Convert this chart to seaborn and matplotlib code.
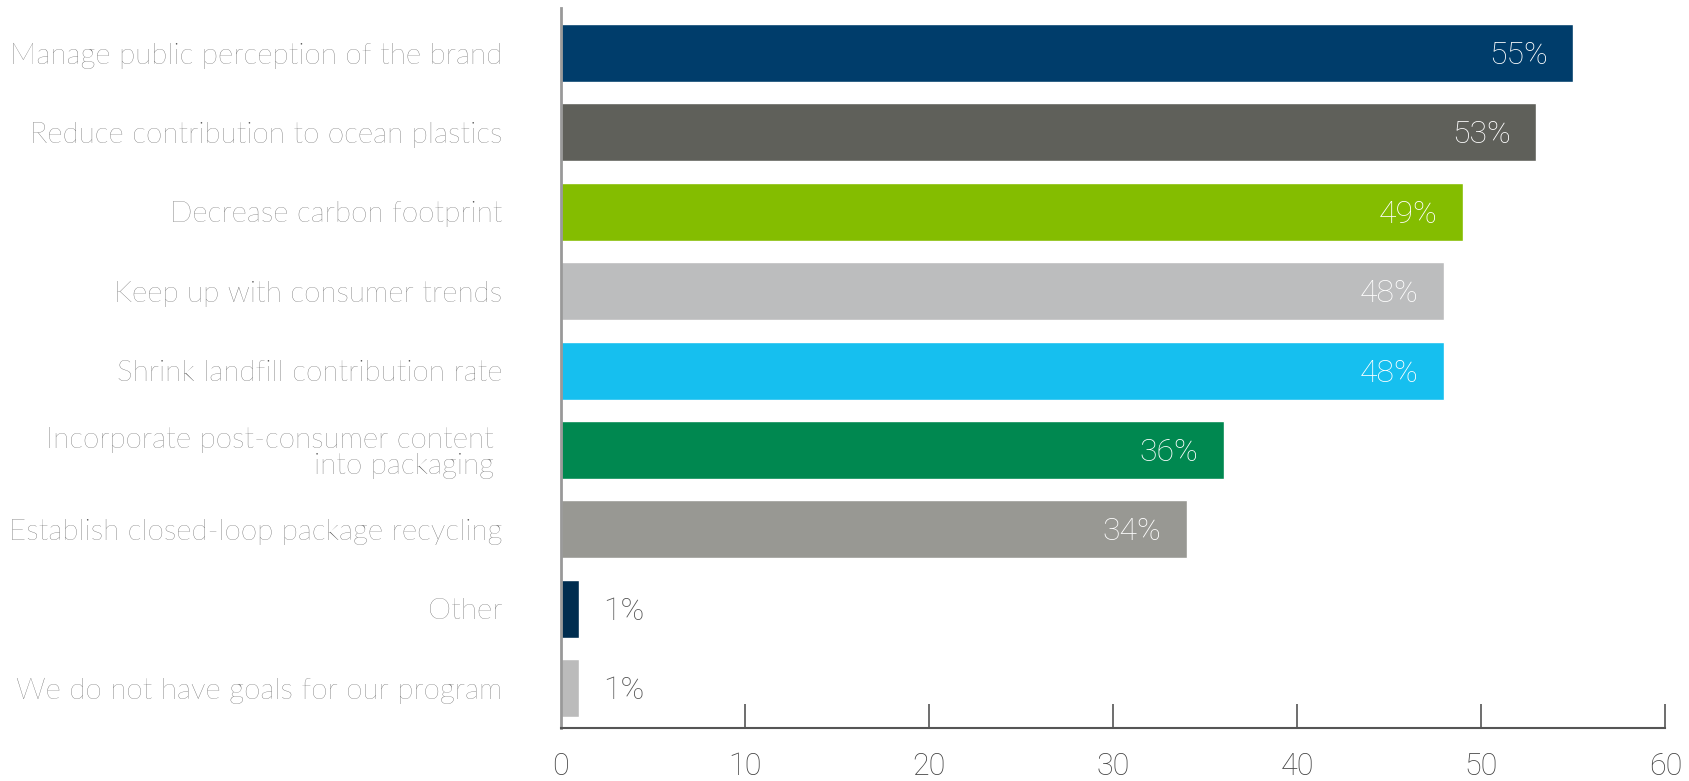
import matplotlib
matplotlib.use("Agg")
import matplotlib.pyplot as plt
import seaborn as sns

# %% Datos
goals = [
    "Manage public perception of the brand",
    "Reduce contribution to ocean plastics",
    "Decrease carbon footprint",
    "Keep up with consumer trends",
    "Shrink landfill contribution rate",
    "Incorporate post-consumer content \ninto packaging ",
    "Establish closed-loop package recycling",
    "Other",
    "We do not have goals for our program",
]
pct = [55, 53, 49, 48, 48, 36, 34, 1, 1]
colors = ["#003d6b", "#5f605a", "#84bd00", "#bcbdbe", "#16bfef",
          "#008850", "#989893", "#002d4f", "#bbbbbb"]
xticks = [0, 10, 20, 30, 40, 50, 60]

# %% Gráfico
sns.set_style("white")
plt.rcParams["font.family"] = ["Lato", "DejaVu Sans"]

fig = plt.figure(figsize=(16.89, 7.81), dpi=100)
ax = fig.add_axes([0.332, 0.068, 0.654, 0.922])

sns.barplot(x=pct, y=goals, hue=goals, palette=colors, legend=False,
            orient="h", width=0.73, saturation=1, ax=ax)

ax.set_xlim(0, 60)
ax.set_ylim(8.5, -0.57)

for i, v in enumerate(pct):
    if v > 5:
        ax.text(v - 1.4, i + 0.03, f"{v}%", ha="right", va="center",
                color="white", fontsize=23, family="Roboto", fontweight="light")
    else:
        ax.text(v + 1.3, i + 0.03, f"{v}%", ha="left", va="center",
                color="#555555", fontsize=23, family="Roboto", fontweight="light")

ax.set_xticks(xticks)
ax.set_xticklabels([str(t) for t in xticks], family="Roboto",
                   fontweight="light", fontsize=22, color="#444444")
ax.tick_params(axis="x", direction="in", length=17, width=1.2,
               color="#555555", pad=17, bottom=True)
ax.tick_params(axis="y", length=0, pad=42, labelsize=21.3, labelcolor="#555555")
for lab in ax.get_yticklabels():
    lab.set_multialignment("right")
    lab.set_linespacing(1.0)
    lab.set_fontweight("light")

ax.xaxis.get_major_ticks()[0].tick1line.set_visible(False)

sns.despine(ax=ax, top=True, right=True)
ax.spines["left"].set_color("#999999")
ax.spines["left"].set_linewidth(2)
ax.spines["bottom"].set_color("#555555")
ax.spines["bottom"].set_linewidth(1.5)
ax.set_xlabel("")
ax.set_ylabel("")

fig.savefig("out.png", dpi=100)
